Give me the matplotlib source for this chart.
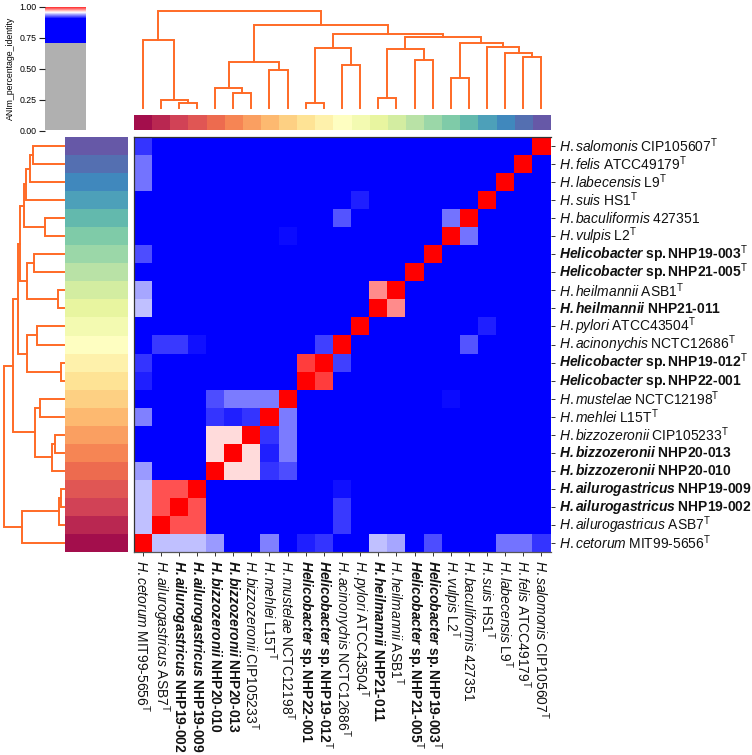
import numpy as np
import matplotlib
matplotlib.use("Agg")
import matplotlib.pyplot as plt
from matplotlib.colors import LinearSegmentedColormap

W, H = 752, 755
plt.rcParams['font.family'] = ['Liberation Sans', 'DejaVu Sans']
plt.rcParams['mathtext.fontset'] = 'custom'
plt.rcParams['mathtext.rm'] = 'Liberation Sans'
plt.rcParams['mathtext.it'] = 'Liberation Sans:italic'
plt.rcParams['mathtext.bf'] = 'Liberation Sans:bold'
plt.rcParams['mathtext.bfit'] = 'Liberation Sans:italic:bold'

# species in column order: (genus/species, strain, ours (bold), type strain)
species = [
    ("H. cetorum", "MIT99-5656", False, True),
    ("H. ailurogastricus", "ASB7", False, True),
    ("H. ailurogastricus", "NHP19-002", True, False),
    ("H. ailurogastricus", "NHP19-009", True, False),
    ("H. bizzozeronii", "NHP20-010", True, False),
    ("H. bizzozeronii", "NHP20-013", True, False),
    ("H. bizzozeronii", "CIP105233", False, True),
    ("H. mehlei", "L15T", False, True),
    ("H. mustelae", "NCTC12198", False, True),
    ("Helicobacter", "sp. NHP22-001", True, False),
    ("Helicobacter", "sp. NHP19-012", True, True),
    ("H. acinonychis", "NCTC12686", False, True),
    ("H. pylori", "ATCC43504", False, True),
    ("H. heilmannii", "NHP21-011", True, False),
    ("H. heilmannii", "ASB1", False, True),
    ("Helicobacter", "sp. NHP21-005", True, True),
    ("Helicobacter", "sp. NHP19-003", True, True),
    ("H. vulpis", "L2", False, True),
    ("H. baculiformis", "427351", False, False),
    ("H. suis", "HS1", False, True),
    ("H. labecensis", "L9", False, True),
    ("H. felis", "ATCC49179", False, True),
    ("H. salomonis", "CIP105607", False, True),
]
background_identity = 0.80
pairs = [
    (0, 22, .910), (0, 21, .9225), (0, 20, .9225), (0, 16, .915), (0, 14, .9325),
    (0, 13, .9375), (0, 10, .910), (0, 9, .906), (0, 7, .925), (0, 4, .930),
    (0, 1, .9375), (0, 2, .9375), (0, 3, .9375),
    (12, 19, .906), (11, 18, .9165), (8, 17, .902), (17, 18, .9225), (13, 14, .9725),
    (1, 11, .911), (2, 11, .911), (3, 11, .903), (10, 11, .9125), (9, 10, .988),
    (4, 8, .915), (5, 8, .924), (6, 8, .924), (7, 8, .924),
    (4, 7, .910), (5, 7, .906), (6, 7, .910),
    (4, 5, .957), (4, 6, .957), (5, 6, .957),
    (1, 2, .984), (1, 3, .984), (2, 3, .984),
]
# dendrogram: (left, right, height); leaves are column indices
cA = (0, (1, (2, 3, .055), .083), .703)
cB = ((4, (5, 6, .155), .204), (7, 8, .396), .479)
cC = ((9, 10, .055), (11, 12, .445), .617)
cD = ((13, 14, .100), (15, 16, .496), .610)
cE = ((17, 18, .313), (19, (20, (21, 22, .524), .566), .628), .665)
tree = (cA, (cB, (cC, (cD, cE, .727), .762), .851), 1.0)

n = len(species)
ident = np.full((n, n), background_identity)
np.fill_diagonal(ident, 1.0)
for a, b, v in pairs:
    ident[a, b] = ident[b, a] = v

cmap = LinearSegmentedColormap.from_list("anim", [
    (0.0, "#b0b0b0"), (0.7, "#b0b0b0"), (0.7, "#0000ff"), (0.9, "#0000ff"),
    (0.95, "#ffffff"), (1.0, "#ff0000")], N=4096)
spectral = plt.get_cmap("Spectral")


def add_ax(fig, x0, y0, x1, y1):
    return fig.add_axes([x0 / W, 1 - y1 / H, (x1 - x0) / W, (y1 - y0) / H])


def label(sp):
    name, strain, bold, typ = sp
    # mathtext already kerns after a full stop, so the space there is dropped
    t = lambda s: s.replace(". ", ".").replace(" ", r"\;").replace("-", "\u2010")
    if bold:
        s = r"\mathbfit{%s}\;\mathbf{%s}" % (t(name), t(strain))
    else:
        s = r"\mathit{%s}\;\mathrm{%s}" % (t(name), t(strain))
    if typ:
        s += r"^{\mathrm{T}}"
    return "$" + s + "$"


def walk(node, segs):
    if not isinstance(node, tuple):
        return node + 0.5, 0.0
    xl, hl = walk(node[0], segs)
    xr, hr = walk(node[1], segs)
    h = node[2]
    segs.append(([xl, xl, xr, xr], [hl, h, h, hr]))
    return (xl + xr) / 2, h


fig = plt.figure(figsize=(W / 100, H / 100), dpi=100)
X0, X1, Y0, Y1 = 133.5, 550.5, 137, 552
DCOL = "#ff6a26"
segs = []
walk(tree, segs)

# heatmap
ax = add_ax(fig, X0, Y0, X1, Y1)
ax.pcolormesh(np.arange(n + 1), np.arange(n + 1), ident, cmap=cmap, vmin=0, vmax=1)
ax.set_xlim(0, n)
ax.set_ylim(0, n)
for s in ax.spines.values():
    s.set_linewidth(0.9)
    s.set_color("#333333")
ax.spines['right'].set_visible(False)
ax.spines['bottom'].set_color("#555555")
ax.yaxis.tick_right()
ax.set_xticks(np.arange(n) + .5)
ax.set_yticks(np.arange(n) + .5)
labs = [label(s) for s in species]
ax.set_xticklabels(labs, rotation=-90, fontsize=10, va='top', ha='center')
ax.set_yticklabels(labs, fontsize=10, va='center', ha='left')
ax.tick_params(axis='both', length=3, width=0.7, color="#333333", pad=3, labelcolor="#111111")

# top dendrogram
axt = add_ax(fig, X0, 11, X1, 108)
for xs, ys in segs:
    axt.plot(xs, ys, color=DCOL, lw=1.4, solid_joinstyle='miter', clip_on=False)
axt.set_xlim(0, n)
axt.set_ylim(0, 1)
axt.axis('off')

# left dendrogram
axl = add_ax(fig, 4, Y0, 64, Y1)
for xs, ys in segs:
    axl.plot(ys, xs, color=DCOL, lw=1.4, solid_joinstyle='miter', clip_on=False)
axl.set_ylim(0, n)
axl.set_xlim(1, 0)
axl.axis('off')

# colour ribbons
col_pos = (np.arange(n) / (n - 1))[None, :]
axr = add_ax(fig, X0, 115, X1, 130.5)
axr.imshow(col_pos, aspect='auto', cmap=spectral, vmin=0, vmax=1, interpolation='nearest', alpha=.95)
axr.axis('off')
axr2 = add_ax(fig, 64.5, Y0, 127, Y1)
axr2.imshow(col_pos.T, aspect='auto', cmap=spectral, vmin=0, vmax=1, origin='lower', interpolation='nearest', alpha=.95)
axr2.axis('off')

# colour bar
axc = add_ax(fig, 44.5, 7, 85, 130.5)
axc.imshow(np.linspace(0, 1, 1024)[:, None], aspect='auto', cmap=cmap, vmin=0, vmax=1,
           origin='lower', extent=(0, 1, 0, 1), interpolation='nearest')
axc.set_xticks([])
axc.set_yticks([0, .25, .5, .75, 1])
axc.set_yticklabels(["0.00", "0.25", "0.50", "0.75", "1.00"], fontsize=6.3)
axc.tick_params(axis='y', length=4, width=0.8, pad=2, color="#222222")
axc.set_ylabel("ANIm_percentage_identity", fontsize=6.3, labelpad=3)
for s in axc.spines.values():
    s.set_visible(False)

fig.savefig("out.png", dpi=100, facecolor="white")
